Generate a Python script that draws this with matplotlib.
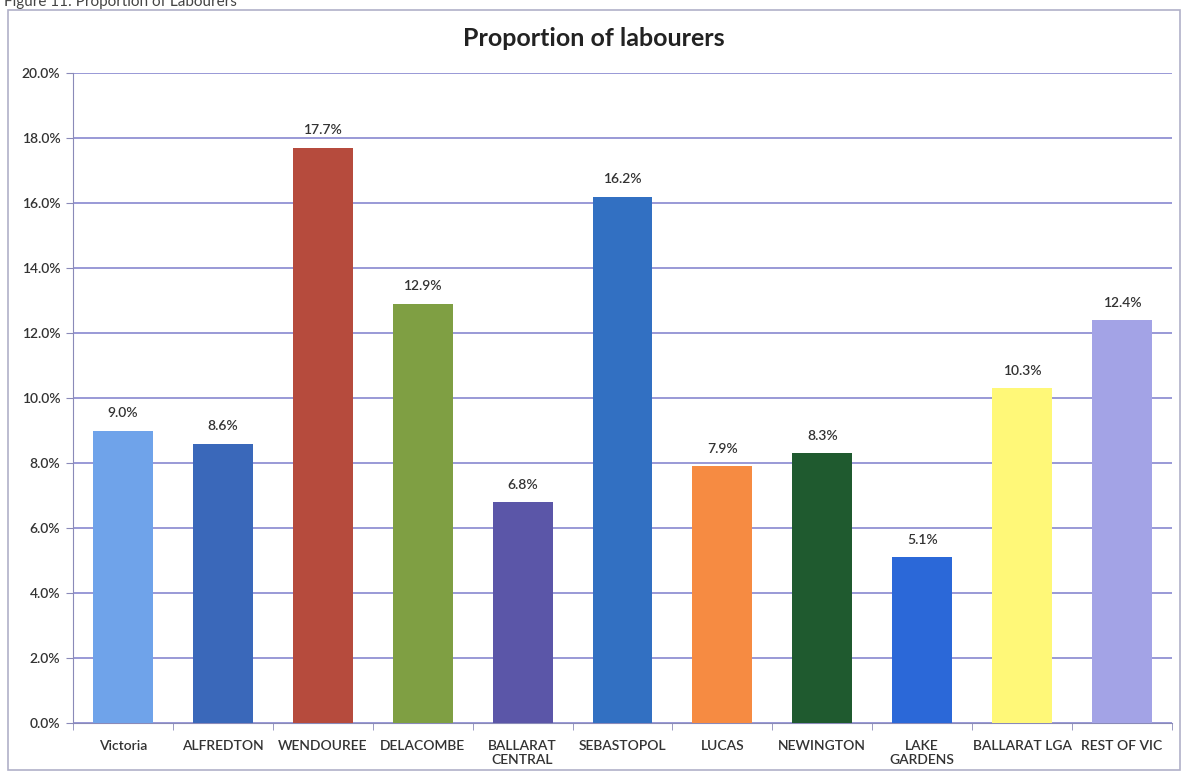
import numpy as np
import matplotlib.pyplot as plt
from matplotlib.patches import Rectangle

suburbs = ['Victoria', 'ALFREDTON', 'WENDOUREE', 'DELACOMBE', 'BALLARAT\nCENTRAL',
           'SEBASTOPOL', 'LUCAS', 'NEWINGTON', 'LAKE\nGARDENS', 'BALLARAT LGA', 'REST OF VIC']
labourers_pct = [9.0, 8.6, 17.7, 12.9, 6.8, 16.2, 7.9, 8.3, 5.1, 10.3, 12.4]
bar_colours = ['#6fa3ea', '#3a68ba', '#b64b3d', '#7f9f43', '#5b56a8', '#3270c2',
               '#f68b42', '#1f5a2f', '#2b68d8', '#fff878', '#a3a3e6']

plt.rcParams['font.family'] = ['Lato', 'DejaVu Sans']

fig = plt.figure(figsize=(11.87, 7.78), dpi=100)
ax = fig.add_axes([73/1187, 1 - 723/778, (1172 - 73)/1187, (723 - 73)/778])

x = np.arange(len(suburbs))
bars = ax.bar(x, labourers_pct, width=0.6, color=bar_colours, zorder=3)
for xi, v in zip(x, labourers_pct):
    ax.text(xi, v + 0.35, '%.1f%%' % v, ha='center', va='bottom', fontsize=10,
            fontweight='semibold', color='#333333')

ax.set_xlim(-0.5, len(suburbs) - 0.5)
ax.set_ylim(0, 20)
ax.set_yticks(np.arange(0, 20.1, 2))
ax.set_yticklabels(['%.1f%%' % t for t in np.arange(0, 20.1, 2)], fontsize=10,
                   fontweight='semibold', color='#333333')
ax.set_xticks(x)
ax.set_xticklabels(suburbs, fontsize=10, fontweight='semibold', color='#333333')
ax.set_xticks(np.arange(-0.5, len(suburbs)), minor=True)
ax.tick_params(axis='x', which='major', length=0, pad=12)
ax.tick_params(axis='x', which='minor', length=5, color='#8a8ab8')
ax.tick_params(axis='y', length=5, color='#8a8ab8', pad=4)

ax.grid(axis='y', color='#8787cf', linewidth=1.2, zorder=0)
for side in ['top', 'right']:
    ax.spines[side].set_visible(False)
for side in ['left', 'bottom']:
    ax.spines[side].set_color('#8a8ab8')

fig.text(0.5, 1 - 38/778, 'Proportion of labourers', ha='center', va='center',
         fontsize=18, fontweight='bold', color='#222222')
fig.text(0.003, 0.997, 'Figure 11: Proportion of Labourers', ha='left', va='center',
         fontsize=11, color='#444444')

fig.patches.append(Rectangle((8/1187, 8/778), (1180 - 8)/1187, (770 - 10)/778,
                             transform=fig.transFigure, fill=False,
                             edgecolor='#b0b0c8', linewidth=1.2))

fig.savefig('out.png', dpi=100)
